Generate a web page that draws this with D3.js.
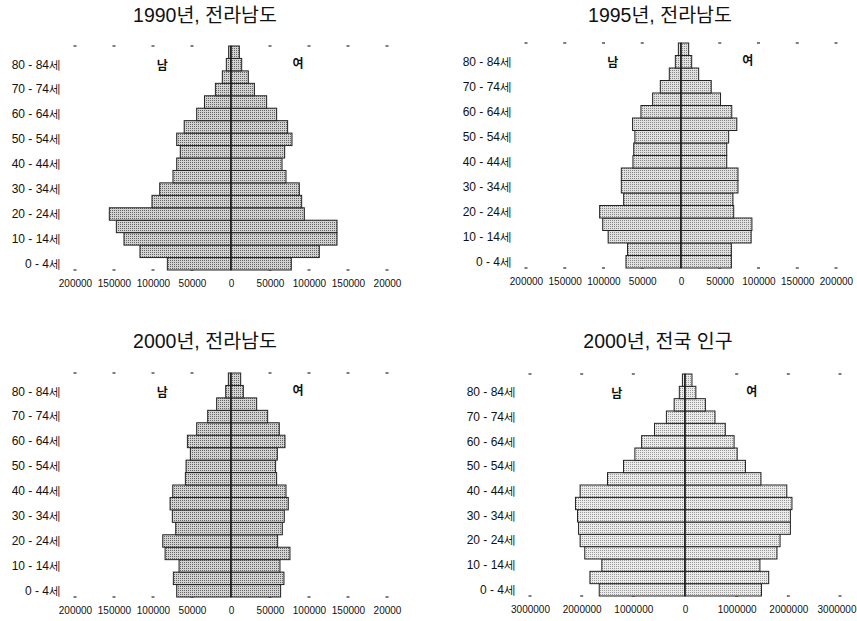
<!DOCTYPE html>
<html>
<head>
<meta charset="utf-8">
<script src="https://cdn.jsdelivr.net/npm/d3@7"></script>
<style>
  body { margin: 0; background: #fff; }
  svg { display: block; font-family: "Liberation Sans", "Noto Sans CJK KR", sans-serif; }
</style>
</head>
<body>
<div id="chart"></div>
<script>
// age groups, bottom to top
const ageGroups = ["0 - 4세", "5 - 9세", "10 - 14세", "15 - 19세", "20 - 24세", "25 - 29세",
    "30 - 34세", "35 - 39세", "40 - 44세", "45 - 49세", "50 - 54세", "55 - 59세",
    "60 - 64세", "65 - 69세", "70 - 74세", "75 - 79세", "80 - 84세", "85세 이상"];
const shownAges = ["0 - 4세", "10 - 14세", "20 - 24세", "30 - 34세", "40 - 44세",
    "50 - 54세", "60 - 64세", "70 - 74세", "80 - 84세"];

// 1990, 전라남도
const male1990 = [81600, 116700, 137200, 147000, 156000, 101300, 91400, 74400, 69600,
    65000, 69600, 60000, 44000, 34000, 20000, 11100, 6000, 3000];
const female1990 = [77300, 113200, 135900, 135900, 94000, 90600, 87600, 70500, 65400,
    68800, 78200, 72600, 58500, 45700, 30000, 22200, 13700, 10700];

// 1995, 전라남도
const male1995 = [71000, 69000, 94000, 101000, 105000, 74000, 77000, 77000, 62000,
    61000, 59500, 62500, 51700, 36600, 26700, 15100, 7300, 3400];
const female1995 = [65000, 65000, 90500, 91500, 68000, 67000, 73500, 73500, 59000,
    59000, 61500, 72000, 65500, 51000, 39000, 22800, 13800, 9900];

// 2000, 전라남도
const male2000 = [69600, 73900, 66600, 84500, 87500, 70900, 75200, 78100, 74700,
    58500, 57600, 52100, 55900, 44000, 29900, 18400, 6800, 3400];
const female2000 = [63600, 67900, 62800, 75600, 59800, 65800, 68300, 73400, 70500,
    58500, 57200, 59400, 69200, 61900, 47000, 32900, 15800, 12400];

// 2000, 전국
const maleNation = [1660000, 1840000, 1610000, 1940000, 2030000, 2060000, 2080000, 2120000, 2030000,
    1500000, 1190000, 970000, 840000, 590000, 360000, 210000, 110000, 50000];
const femaleNation = [1480000, 1620000, 1450000, 1780000, 1840000, 2040000, 2040000, 2070000, 1970000,
    1470000, 1170000, 1010000, 950000, 780000, 580000, 395000, 210000, 135000];

const ticksJN = [-200000, -150000, -100000, -50000, 0, 50000, 100000, 150000, 200000];
const tickLabelsJN = ["200000", "150000", "100000", "50000", "0", "50000", "100000", "150000", "20000"];
const tickLabels95 = ["200000", "150000", "100000", "50000", "0", "50000", "100000", "150000", "200000"];
const ticksNation = [-3000000, -2000000, -1000000, 0, 1000000, 2000000, 3000000];
const tickLabelsNation = ["3000000", "2000000", "1000000", "0", "1000000", "2000000", "3000000"];

const panels = [
    { title: "1990년, 전라남도", male: male1990, female: female1990, max: 200000,
      ticks: ticksJN, tickLabels: tickLabelsJN, x0: 75, x1: 387, y0: 46, y1: 270,
      titleX: 205, titleY: 22, fill: "dark" },
    { title: "1995년, 전라남도", male: male1995, female: female1995, max: 200000,
      ticks: ticksJN, tickLabels: tickLabels95, x0: 526, x1: 836, y0: 43, y1: 268,
      titleX: 660, titleY: 22, fill: "mid" },
    { title: "2000년, 전라남도", male: male2000, female: female2000, max: 200000,
      ticks: ticksJN, tickLabels: tickLabelsJN, x0: 75, x1: 387, y0: 373, y1: 597,
      titleX: 205, titleY: 348, fill: "dark" },
    { title: "2000년, 전국 인구", male: maleNation, female: femaleNation, max: 3000000,
      ticks: ticksNation, tickLabels: tickLabelsNation, x0: 530, x1: 840, y0: 374, y1: 596,
      titleX: 658, titleY: 348, fill: "light" }
];

const width = 857, height = 621;
const svg = d3.select("#chart").append("svg")
    .attr("width", width)
    .attr("height", height);

// halftone-ish fills
const defs = svg.append("defs");
const fills = { dark: ["#d2d2d2", "#666"], mid: ["#e0e0e0", "#858585"], light: ["#ebebeb", "#999"] };
Object.entries(fills).forEach(([name, [bg, dot]]) => {
    const p = defs.append("pattern")
        .attr("id", "fill-" + name)
        .attr("width", 2).attr("height", 2)
        .attr("patternUnits", "userSpaceOnUse");
    p.append("rect").attr("width", 2).attr("height", 2).attr("fill", bg);
    p.append("rect").attr("width", 1).attr("height", 1).attr("fill", dot);
});

panels.forEach(p => {
    const g = svg.append("g");

    const x = d3.scaleLinear().domain([-p.max, p.max]).range([p.x0, p.x1]);
    const y = d3.scaleBand().domain(ageGroups).range([p.y1, p.y0]).padding(0);

    // title
    g.append("text")
        .attr("x", p.titleX)
        .attr("y", p.titleY)
        .attr("text-anchor", "middle")
        .attr("font-size", "19.5px")
        .attr("fill", "#111")
        .text(p.title);

    // faint tick marks along top and bottom edges
    [p.y0, p.y1].forEach(yy => {
        g.selectAll(null)
            .data(p.ticks.filter(t => t !== 0))
            .join("rect")
            .attr("x", d => x(d) - 1.5)
            .attr("y", yy - 0.75)
            .attr("width", 3)
            .attr("height", 1.5)
            .attr("fill", "#555");
    });

    // male bars (left)
    g.selectAll(null)
        .data(p.male)
        .join("rect")
        .attr("x", d => x(-d))
        .attr("y", (d, i) => y(ageGroups[i]))
        .attr("width", d => x(0) - x(-d))
        .attr("height", y.bandwidth())
        .attr("fill", `url(#fill-${p.fill})`)
        .attr("stroke", "#222")
        .attr("stroke-width", 1);

    // female bars (right)
    g.selectAll(null)
        .data(p.female)
        .join("rect")
        .attr("x", x(0))
        .attr("y", (d, i) => y(ageGroups[i]))
        .attr("width", d => x(d) - x(0))
        .attr("height", y.bandwidth())
        .attr("fill", `url(#fill-${p.fill})`)
        .attr("stroke", "#222")
        .attr("stroke-width", 1);

    // center line
    g.append("line")
        .attr("x1", x(0)).attr("x2", x(0))
        .attr("y1", p.y0).attr("y2", p.y1)
        .attr("stroke", "#111")
        .attr("stroke-width", 1.2);

    // y axis labels (every other age group)
    const yAxis = d3.axisLeft(y).tickValues(shownAges).tickSize(0).tickPadding(0);
    g.append("g")
        .attr("transform", `translate(${p.x0 - 14},0)`)
        .call(yAxis)
        .call(a => a.select(".domain").remove())
        .selectAll("text")
        .attr("font-size", "12px")
        .attr("fill", "#111");

    // x axis labels
    const xAxis = d3.axisBottom(x).tickValues(p.ticks).tickSize(0).tickPadding(0)
        .tickFormat((d, i) => p.tickLabels[i]);
    const xg = g.append("g")
        .attr("transform", `translate(0,${p.y1 + 10})`)
        .call(xAxis)
        .call(a => a.select(".domain").remove());
    xg.selectAll("text")
        .attr("font-size", "10px")
        .attr("fill", "#111");
    // keep the right-most label inside the page
    xg.selectAll(".tick text")
        .filter(function() { return this.getBBox && (x(p.max) + this.getBBox().width / 2 > width); })
        .filter((d) => d === p.max)
        .attr("text-anchor", "end")
        .attr("x", width - 1 - x(p.max));

    // 남 / 여
    g.append("text")
        .attr("x", p.x0 + (p.x1 - p.x0) * 0.28)
        .attr("y", p.y0 + 24)
        .attr("text-anchor", "middle")
        .attr("font-size", "12px")
        .attr("font-weight", "bold")
        .attr("fill", "#111")
        .text("남");
    g.append("text")
        .attr("x", p.x0 + (p.x1 - p.x0) * 0.715)
        .attr("y", p.y0 + 22)
        .attr("text-anchor", "middle")
        .attr("font-size", "12px")
        .attr("font-weight", "bold")
        .attr("fill", "#111")
        .text("여");
});
</script>
</body>
</html>
